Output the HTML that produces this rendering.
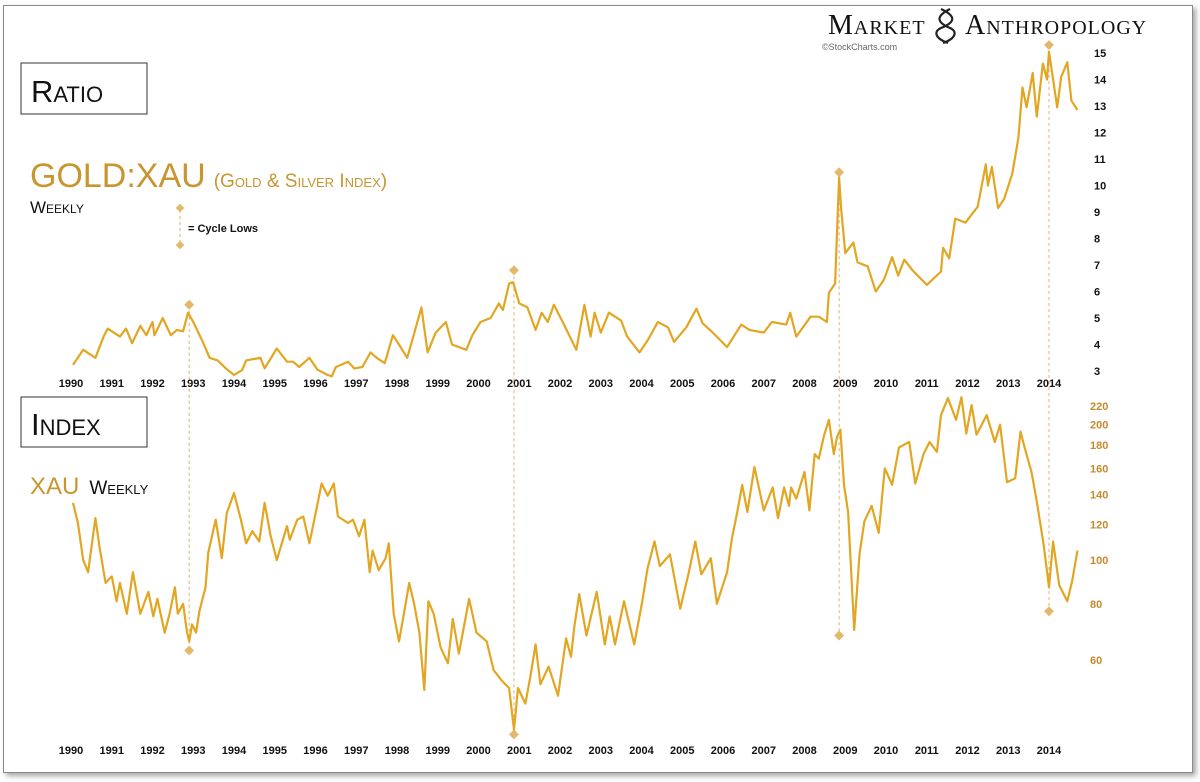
<!DOCTYPE html>
<html><head><meta charset="utf-8">
<style>
html,body{margin:0;padding:0;background:#fff;}
body{width:1200px;height:782px;position:relative;overflow:hidden;font-family:"Liberation Sans",sans-serif;}
#frame{position:absolute;left:3px;top:5px;width:1188px;height:766px;border:1px solid #8a8a8a;box-shadow:3px 3px 5px rgba(0,0,0,0.35);background:#fff;}
svg{position:absolute;left:0;top:0;}
</style></head>
<body>
<div id="frame"></div>
<svg id="chart" width="1200" height="782">
  <g>
    <text x="828" y="34" font-family="Liberation Serif, serif" font-size="28" fill="#111" style="font-variant:small-caps;letter-spacing:1px">Market</text>
    <g stroke="#222" stroke-width="2.2" fill="none">
      <path d="M941 9 C956 16,956 22,941 28 C934 31,934 38,948 43"/>
      <path d="M950 9 C936 16,936 22,950 28 C957 31,957 38,943 43"/>
    </g>
    <text x="965" y="34" font-family="Liberation Serif, serif" font-size="28" fill="#111" style="font-variant:small-caps;letter-spacing:1px">Anthropology</text>
    <text x="822" y="50" font-size="9" fill="#666">©StockCharts.com</text>
  </g>
  <g>
    <rect x="21" y="63" width="126" height="51" fill="none" stroke="#333" stroke-width="1"/>
    <text x="31" y="102" font-size="31" fill="#111" style="font-variant:small-caps">Ratio</text>
  </g>
  <g>
    <rect x="21" y="397" width="126" height="50" fill="none" stroke="#333" stroke-width="1"/>
    <text x="31" y="435" font-size="31" fill="#111" style="font-variant:small-caps">Index</text>
  </g>
  <text x="30" y="187" font-size="34" fill="#c8952f"><tspan>GOLD:XAU</tspan><tspan font-size="19" dx="8" style="font-variant:small-caps">(Gold &amp; Silver Index)</tspan></text>
  <text x="30" y="213" font-size="17" fill="#111" style="font-variant:small-caps">Weekly</text>
  <g>
    <line x1="180" y1="210" x2="180" y2="243" stroke="#e0b060" stroke-width="1" stroke-dasharray="3,3"/>
    <rect x="177" y="205" width="6" height="6" fill="#e3b86a" transform="rotate(45 180 208)"/>
    <rect x="177" y="242" width="6" height="6" fill="#e3b86a" transform="rotate(45 180 245)"/>
    <text x="188" y="232" font-size="11" font-weight="bold" fill="#111">= Cycle Lows</text>
  </g>
  <text x="30" y="494" font-size="24" fill="#c8952f">XAU<tspan dx="10" font-size="19" fill="#111" style="font-variant:small-caps">Weekly</tspan></text>
  <g id="gAxes"></g>
  <g id="gCycles"></g>
  <g id="gLines"></g>
</svg>
<script>
const years = [1990,1991,1992,1993,1994,1995,1996,1997,1998,1999,2000,2001,2002,2003,2004,2005,2006,2007,2008,2009,2010,2011,2012,2013,2014];
const ratioTicks = [3,4,5,6,7,8,9,10,11,12,13,14,15];
const indexTicks = [60,80,100,120,140,160,180,200,220];
const cycleDates = [1992.9,2000.87,2008.85,2014.0];
const cycleRatioValues = [5.5,6.8,10.5,15.3];
const cycleIndexValues = [63,41,68,77];
const ratioDates = [1990.05,1990.3,1990.6,1990.8,1990.9,1991.2,1991.35,1991.5,1991.7,1991.85,1992.0,1992.05,1992.25,1992.45,1992.6,1992.75,1992.87,1993.0,1993.25,1993.4,1993.6,1993.8,1994.0,1994.2,1994.3,1994.65,1994.75,1995.05,1995.3,1995.45,1995.6,1995.85,1996.05,1996.3,1996.4,1996.5,1996.8,1996.95,1997.15,1997.35,1997.5,1997.7,1997.9,1998.05,1998.25,1998.4,1998.6,1998.75,1998.95,1999.2,1999.35,1999.7,1999.85,2000.05,2000.3,2000.5,2000.6,2000.75,2000.85,2001.0,2001.2,2001.4,2001.55,2001.7,2001.85,2002.05,2002.4,2002.6,2002.75,2002.85,2003.0,2003.2,2003.5,2003.65,2003.95,2004.15,2004.4,2004.65,2004.8,2005.1,2005.35,2005.5,2005.75,2006.1,2006.45,2006.65,2007.0,2007.2,2007.55,2007.65,2007.8,2008.15,2008.35,2008.55,2008.6,2008.75,2008.85,2008.9,2009.0,2009.2,2009.3,2009.55,2009.75,2009.95,2010.15,2010.3,2010.45,2010.65,2011.0,2011.35,2011.4,2011.55,2011.7,2011.95,2012.25,2012.45,2012.5,2012.6,2012.75,2012.9,2013.1,2013.25,2013.35,2013.45,2013.6,2013.7,2013.85,2013.95,2014.0,2014.1,2014.2,2014.3,2014.45,2014.55,2014.7];
const ratioValues = [3.23,3.8,3.5,4.3,4.6,4.3,4.6,4.05,4.7,4.35,4.85,4.35,5.0,4.35,4.55,4.5,5.2,4.85,4.05,3.5,3.4,3.1,2.85,3.04,3.4,3.5,3.1,3.85,3.35,3.35,3.15,3.5,3.05,2.85,2.8,3.15,3.35,3.1,3.15,3.7,3.5,3.3,4.35,4.0,3.5,4.3,5.4,3.7,4.45,4.85,4.0,3.8,4.35,4.85,5.0,5.55,5.3,6.3,6.35,5.55,5.4,4.55,5.2,4.85,5.5,4.9,3.8,5.5,4.3,5.2,4.45,5.2,4.9,4.3,3.7,4.15,4.85,4.65,4.1,4.65,5.35,4.8,4.45,3.9,4.75,4.55,4.45,4.85,4.75,5.2,4.3,5.05,5.05,4.85,5.95,6.3,10.3,9.1,7.45,7.85,7.1,6.95,6.0,6.45,7.3,6.6,7.2,6.8,6.25,6.75,7.65,7.25,8.75,8.6,9.2,10.8,10.0,10.7,9.15,9.5,10.45,11.8,13.7,12.95,14.25,12.6,14.6,14.0,15.05,14.0,12.95,14.1,14.65,13.2,12.85];
const indexDates = [1990.05,1990.17,1990.3,1990.42,1990.6,1990.7,1990.85,1991.0,1991.12,1991.2,1991.37,1991.52,1991.7,1991.9,1992.02,1992.12,1992.3,1992.42,1992.55,1992.62,1992.75,1992.85,1992.9,1992.97,1993.07,1993.15,1993.3,1993.37,1993.55,1993.7,1993.82,1994.0,1994.17,1994.3,1994.45,1994.62,1994.75,1994.9,1995.05,1995.3,1995.37,1995.55,1995.7,1995.85,1995.97,1996.15,1996.3,1996.45,1996.55,1996.8,1996.92,1997.07,1997.2,1997.33,1997.4,1997.55,1997.72,1997.8,1997.92,1998.05,1998.17,1998.3,1998.42,1998.55,1998.67,1998.77,1998.9,1999.07,1999.25,1999.37,1999.52,1999.77,1999.95,2000.2,2000.37,2000.57,2000.75,2000.87,2000.97,2001.15,2001.27,2001.4,2001.52,2001.72,2001.95,2002.15,2002.27,2002.35,2002.47,2002.65,2002.9,2003.1,2003.22,2003.35,2003.57,2003.82,2004.02,2004.15,2004.32,2004.45,2004.7,2004.95,2005.15,2005.32,2005.47,2005.7,2005.85,2006.1,2006.22,2006.35,2006.47,2006.6,2006.77,2007.0,2007.22,2007.35,2007.5,2007.62,2007.67,2007.8,2008.0,2008.12,2008.25,2008.35,2008.47,2008.6,2008.72,2008.8,2008.88,2008.97,2009.07,2009.22,2009.35,2009.47,2009.65,2009.82,2009.97,2010.15,2010.32,2010.57,2010.72,2010.92,2011.07,2011.25,2011.35,2011.52,2011.72,2011.85,2011.97,2012.1,2012.22,2012.47,2012.67,2012.8,2012.97,2013.17,2013.3,2013.4,2013.57,2013.7,2013.87,2014.0,2014.1,2014.25,2014.45,2014.57,2014.7];
const indexValues = [134,121,100,94,124,107,89,92,81,89,76,94,76,85,75,82,69,76,87,76,80,69,66,72,69,77,87,104,123,101,127,141,123,109,116,110,134,113,100,119,111,123,125,109,123,148,139,148,125,121,123,113,123,94,105,95,101,109,76,66,76,89,80,69,51.5,81,76,64,59,74,62,82,69,66,57,54,52,42,52,48,55,65,53,58,50,67,61,71,84,68,85,65,75,65,81,65,81,96,110,97,103,78,93,110,93,101,80,94,112,128,147,128,161,129,145,124,145,132,145,137,157,129,172,168,188,205,172,188,195,147,128,70,103,122,132,115,160,147,178,183,148,172,183,174,210,229,205,230,191,221,190,210,183,200,149,152,193,178,157,135,108,87,110,88,81,90,105,87,102,101];

const NS = "http://www.w3.org/2000/svg";
const GOLD = "#e2a622";
function x(t){ return 71 + (t - 1990) * 40.75; }
function yR(v){ return 371 - (v - 3) * 26.5; }
function yI(v){ return 406 + (Math.log(220) - Math.log(v)) * 195.5; }
function mk(tag, attrs, parent){ const e = document.createElementNS(NS, tag); for (const k in attrs) e.setAttribute(k, attrs[k]); parent.appendChild(e); return e; }

const gA = document.getElementById('gAxes');
years.forEach(function(yr){
  const t1 = mk('text', {x: x(yr), y: 387, 'text-anchor': 'middle', 'font-size': 11, 'font-weight': 'bold', fill: '#111'}, gA);
  t1.textContent = yr;
  
  
  const t2 = mk('text', {x: x(yr), y: 754, 'text-anchor': 'middle', 'font-size': 11, 'font-weight': 'bold', fill: '#111'}, gA);
  t2.textContent = yr;
  
  
});
ratioTicks.forEach(function(v){
  const t = mk('text', {x: 1094, y: yR(v) + 4, 'font-size': 11, 'font-weight': 'bold', fill: '#111'}, gA);
  t.textContent = v;
  
  
});
indexTicks.forEach(function(v){
  const t = mk('text', {x: 1090, y: yI(v) + 4, 'font-size': 11, 'font-weight': 'bold', fill: '#c68a2c'}, gA);
  t.textContent = v;
  
  
});

const gC = document.getElementById('gCycles');
cycleDates.forEach(function(d, i){
  const cx = x(d), y1 = yR(cycleRatioValues[i]), y2 = yI(cycleIndexValues[i]);
  const l = mk('line', {x1: cx, y1: y1, x2: cx, y2: y2, stroke: '#e0b070', 'stroke-width': 1, 'stroke-dasharray': '3,3'}, gC);
  
  
  [y1, y2].forEach(function(yy){
    const m = mk('rect', {x: cx - 3.5, y: yy - 3.5, width: 7, height: 7, fill: '#e3b86a', transform: 'rotate(45 ' + cx + ' ' + yy + ')'}, gC);
    
    
  });
});

const gL = document.getElementById('gLines');
const rp = ratioDates.map(function(d, i){ return x(d).toFixed(1) + ',' + yR(ratioValues[i]).toFixed(1); }).join(' ');
const rl = mk('polyline', {points: rp, fill: 'none', stroke: GOLD, 'stroke-width': 2.2, 'stroke-linejoin': 'round'}, gL);


const ip = indexDates.map(function(d, i){ return x(d).toFixed(1) + ',' + yI(indexValues[i]).toFixed(1); }).join(' ');
const il = mk('polyline', {points: ip, fill: 'none', stroke: GOLD, 'stroke-width': 2.2, 'stroke-linejoin': 'round'}, gL);


</script>
</body></html>
